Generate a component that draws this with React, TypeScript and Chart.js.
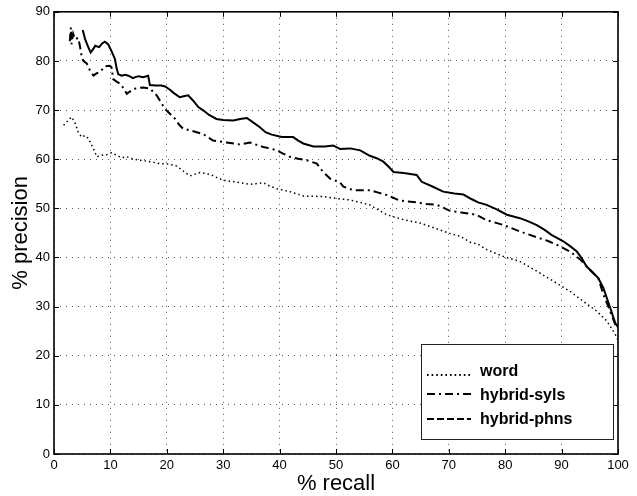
import React, { useEffect, useRef } from "react";
import { Chart, registerables } from "chart.js";

Chart.register(...registerables);

const FONT = '"Liberation Sans", Arial, Helvetica, sans-serif';

const xTicks = [0, 10, 20, 30, 40, 50, 60, 70, 80, 90, 100];
const yTicks = [0, 10, 20, 30, 40, 50, 60, 70, 80, 90];
const seriesNames = ["word", "hybrid-syls", "hybrid-phns"];

// [recall, precision]
const wordCurve: [number, number][] = [
  [1.7, 66.9], [3.1, 68.6], [3.7, 67.5], [4.3, 65.5], [4.9, 64.5], [5.5, 64.8], [6.1, 64.2],
  [7.0, 62.1], [7.6, 60.5], [8.5, 60.8], [9.3, 60.9], [10.2, 61.3], [11.1, 60.8], [12.0, 60.3],
  [12.9, 60.5], [14.0, 60.0], [15.2, 59.8], [17.0, 59.5], [18.8, 59.1], [20.3, 59.0], [21.8, 58.6],
  [23.0, 57.5], [24.1, 56.6], [25.9, 57.3], [27.7, 56.9], [29.0, 56.2], [30.0, 55.7], [31.5, 55.5],
  [33.0, 55.2], [34.8, 54.9], [37.1, 55.2], [38.3, 54.5], [39.5, 54.0], [41.8, 53.4], [44.2, 52.5],
  [47.7, 52.4], [50.1, 52.0], [52.5, 51.7], [54.3, 51.2], [56.0, 50.7], [57.5, 49.7], [59.0, 48.7],
  [61.9, 47.7], [64.9, 47.0], [66.7, 46.3], [68.4, 45.6], [70.2, 44.9], [72.0, 44.3], [73.8, 43.1],
  [75.2, 42.7], [76.7, 41.6], [79.7, 40.2], [82.6, 39.2], [84.0, 38.3], [85.6, 37.2], [88.5, 35.2],
  [91.5, 33.1], [93.8, 31.1], [96.2, 29.1], [98.0, 27.1], [99.5, 24.4], [100, 23.2],
];

const hybridSylsCurve: [number, number][] = [
  [2.8, 84.0], [3.0, 86.8], [3.1, 83.4], [3.4, 85.5], [3.7, 84.4], [4.3, 84.7], [4.6, 83.0],
  [4.9, 81.0], [5.2, 80.0], [5.8, 79.5], [6.4, 78.0], [7.0, 77.0], [7.6, 77.5], [8.2, 77.8],
  [9.0, 78.9], [9.9, 79.0], [10.2, 78.7], [10.5, 76.3], [11.1, 75.8], [11.7, 75.4], [12.3, 74.5],
  [12.9, 73.3], [13.5, 73.8], [14.1, 74.3], [15.0, 74.5], [15.8, 74.6], [17.0, 74.4], [18.2, 73.0],
  [19.0, 71.5], [19.7, 70.2], [20.6, 69.2], [21.5, 68.2], [22.2, 67.0], [22.9, 66.2], [24.1, 65.9],
  [25.3, 65.5], [26.5, 65.1], [27.4, 64.4], [28.2, 63.8], [29.4, 63.6], [30.6, 63.4], [33.0, 63.0],
  [34.8, 63.4], [36.0, 62.9], [37.1, 62.5], [38.3, 62.2], [39.5, 61.8], [40.7, 61.1], [41.8, 60.5],
  [43.3, 60.1], [44.8, 59.8], [46.6, 59.1], [47.7, 57.4], [49.0, 56.0], [50.7, 55.3], [51.3, 54.4],
  [53.1, 53.7], [56.0, 53.7], [57.5, 53.2], [59.0, 52.7], [61.3, 51.6], [64.3, 51.2], [66.0, 50.9],
  [67.9, 50.7], [70.2, 49.5], [72.5, 49.1], [74.9, 48.7], [76.7, 47.6], [79.7, 46.6], [82.6, 45.3],
  [85.6, 44.1], [87.5, 43.4], [89.1, 42.6], [91.5, 41.2], [93.3, 39.6], [95.0, 37.5], [96.5, 35.8],
  [97.4, 32.5], [98.6, 29.1], [99.5, 26.4], [100, 25.5],
];

const hybridPhnsCurve: [number, number][] = [
  [5.1, 86.3], [5.5, 84.5], [6.0, 83.0], [6.5, 81.7], [7.0, 82.5], [7.3, 83.1], [8.0, 82.8],
  [8.5, 83.5], [9.0, 83.9], [9.6, 83.4], [10.2, 82.0], [10.8, 80.4], [11.1, 78.5], [11.4, 77.3],
  [12.0, 77.0], [12.6, 77.2], [13.2, 77.0], [14.0, 76.5], [14.4, 76.7], [15.0, 76.9], [15.8, 76.7],
  [16.7, 77.0], [17.0, 75.1], [18.0, 75.0], [19.0, 75.0], [19.7, 74.8], [20.5, 74.2], [21.2, 73.5],
  [22.3, 72.6], [23.0, 72.8], [23.8, 73.0], [24.6, 72.0], [25.6, 70.6], [26.5, 69.9], [27.5, 69.0],
  [28.8, 68.2], [30.0, 68.0], [31.8, 67.9], [33.0, 68.2], [34.2, 68.4], [35.3, 67.5], [36.5, 66.5],
  [37.5, 65.5], [38.6, 65.0], [40.4, 64.5], [42.4, 64.5], [43.3, 63.8], [44.2, 63.2], [46.0, 62.6],
  [48.0, 62.6], [49.5, 62.8], [50.7, 62.1], [52.5, 62.2], [54.3, 61.8], [56.0, 60.7], [57.2, 60.2],
  [58.4, 59.5], [59.3, 58.5], [60.2, 57.4], [62.0, 57.2], [64.3, 56.8], [65.2, 55.4], [67.0, 54.5],
  [69.0, 53.4], [71.0, 53.0], [72.6, 52.8], [74.0, 51.9], [75.2, 51.2], [76.7, 50.7], [78.5, 49.8],
  [80.3, 48.7], [82.6, 48.0], [84.0, 47.4], [85.6, 46.6], [87.0, 45.6], [88.2, 44.6], [90.3, 43.3],
  [91.5, 42.3], [92.7, 41.2], [93.6, 39.8], [94.4, 38.2], [95.5, 37.0], [96.5, 35.8], [97.4, 33.8],
  [98.0, 31.8], [98.6, 29.8], [99.5, 26.7], [100, 25.8],
];

const toPoints = (c: [number, number][]) => c.map(([x, y]) => ({ x, y }));

const framePlugin = {
  id: "frame",
  afterDatasetsDraw(chart: any) {
    const { ctx, chartArea: a, scales } = chart;
    const len = 5;
    ctx.save();
    ctx.strokeStyle = "#000";
    ctx.lineWidth = 1.6;
    ctx.setLineDash([]);
    ctx.strokeRect(a.left, a.top, a.right - a.left, a.bottom - a.top);
    ctx.lineWidth = 1;
    ctx.beginPath();
    scales.x.ticks.forEach((t: any) => {
      const px = Math.round(scales.x.getPixelForValue(t.value)) + 0.5;
      ctx.moveTo(px, a.bottom);
      ctx.lineTo(px, a.bottom - len);
      ctx.moveTo(px, a.top);
      ctx.lineTo(px, a.top + len);
    });
    scales.y.ticks.forEach((t: any) => {
      const py = Math.round(scales.y.getPixelForValue(t.value)) + 0.5;
      ctx.moveTo(a.left, py);
      ctx.lineTo(a.left + len, py);
      ctx.moveTo(a.right, py);
      ctx.lineTo(a.right - len, py);
    });
    ctx.stroke();
    ctx.restore();
  },
};

const boxLegendPlugin = {
  id: "boxLegend",
  afterDraw(chart: any) {
    const { ctx, chartArea: a } = chart;
    const w = 192;
    const h = 95;
    const left = a.right - 5 - w;
    const top = a.bottom - 15 - h;
    ctx.save();
    ctx.fillStyle = "#fff";
    ctx.fillRect(left, top, w, h);
    ctx.strokeStyle = "#222";
    ctx.lineWidth = 1;
    ctx.setLineDash([]);
    ctx.strokeRect(Math.round(left) + 0.5, Math.round(top) + 0.5, w, h);
    ctx.font = `bold 16px ${FONT}`;
    ctx.fillStyle = "#000";
    ctx.textBaseline = "alphabetic";
    ctx.textAlign = "left";
    chart.data.datasets.forEach((ds: any, i: number) => {
      const base = top + 32 + i * 24;
      const ly = base + (ds.legendOffset ?? -5);
      ctx.beginPath();
      ctx.strokeStyle = "#000";
      ctx.lineWidth = ds.legendWidth ?? ds.borderWidth;
      ctx.setLineDash(ds.legendDash ?? ds.borderDash ?? []);
      ctx.moveTo(left + 6, ly);
      ctx.lineTo(left + 50, ly);
      ctx.stroke();
      ctx.setLineDash([]);
      ctx.fillText(ds.label, left + 59, base);
    });
    ctx.restore();
  },
};

export default function App() {
  const ref = useRef<HTMLCanvasElement | null>(null);

  useEffect(() => {
    if (!ref.current) return;
    const tickFont = { size: 13, family: FONT };
    const chart = new Chart(ref.current, {
      type: "line",
      data: {
        datasets: [
          {
            label: seriesNames[0],
            data: toPoints(wordCurve),
            borderColor: "#000",
            borderWidth: 1.5,
            borderDash: [1.5, 3],
            pointRadius: 0,
            fill: false,
            legendOffset: -1,
            legendDash: [1.6, 3],
            legendWidth: 1.8,
          } as any,
          {
            label: seriesNames[1],
            data: toPoints(hybridSylsCurve),
            borderColor: "#000",
            borderWidth: 2,
            borderDash: [8, 4, 2, 4],
            pointRadius: 0,
            fill: false,
            legendOffset: -6,
          } as any,
          {
            label: seriesNames[2],
            data: toPoints(hybridPhnsCurve),
            borderColor: "#000",
            borderWidth: 2,
            borderDash: [],
            pointRadius: 0,
            fill: false,
            legendOffset: -5,
            legendDash: [7, 3],
          } as any,
        ],
      },
      options: {
        animation: false,
        responsive: false,
        maintainAspectRatio: false,
        parsing: false as any,
        layout: { padding: { left: 0, right: 19, top: 9, bottom: 0 } },
        plugins: { legend: { display: false }, tooltip: { enabled: false } },
        elements: { line: { tension: 0 }, point: { radius: 0 } },
        scales: {
          x: {
            type: "linear",
            min: 0,
            max: 100,
            afterBuildTicks: (s: any) => {
              s.ticks = xTicks.map((v) => ({ value: v }));
            },
            ticks: { font: tickFont, color: "#000", padding: 4, maxRotation: 0, autoSkip: false },
            grid: { color: "#555", lineWidth: 1, drawTicks: false, tickLength: 0 },
            border: { display: false, dash: [1, 5] },
            title: {
              display: true,
              text: "% recall",
              color: "#000",
              font: { size: 22, family: FONT },
              padding: { top: 0, bottom: -1 },
            },
            afterFit: (s: any) => {
              s.height = 42;
            },
          },
          y: {
            type: "linear",
            min: 0,
            max: 90,
            afterBuildTicks: (s: any) => {
              s.ticks = yTicks.map((v) => ({ value: v }));
            },
            ticks: { font: tickFont, color: "#000", padding: 4, autoSkip: false },
            grid: { color: "#555", lineWidth: 1, drawTicks: false, tickLength: 0 },
            border: { display: false, dash: [1, 5] },
            title: {
              display: true,
              text: "% precision",
              color: "#000",
              font: { size: 22, family: FONT },
              padding: { top: 8, bottom: 0 },
            },
            afterFit: (s: any) => {
              s.width = 54;
            },
          },
        },
      } as any,
      plugins: [framePlugin, boxLegendPlugin],
    });
    return () => chart.destroy();
  }, []);

  return (
    <div style={{ position: "absolute", left: 0, top: 0, width: 637, height: 496, background: "#fff" }}>
      <canvas ref={ref} width={637} height={496} style={{ width: 637, height: 496 }} />
    </div>
  );
}
